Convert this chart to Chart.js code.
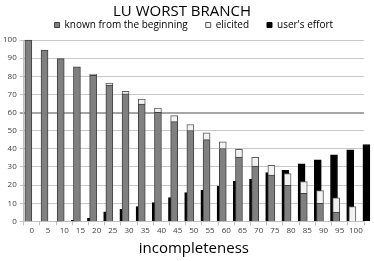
<!DOCTYPE html>
<html>
<head>
<meta charset="utf-8">
<script src="https://cdn.jsdelivr.net/npm/chart.js@4.4.1/dist/chart.umd.min.js"></script>
<style>
  html, body { margin: 0; padding: 0; background: #fff; }
  #wrap { width: 374px; height: 261px; }
</style>
</head>
<body>
<div id="wrap"><canvas id="chart"></canvas></div>
<script>
// incompleteness levels (x categories)
const categories = ['0', '5', '10', '15', '20', '25', '30', '35', '40', '45', '50',
                    '55', '60', '65', '70', '75', '80', '85', '90', '95', '100'];

// values
const known    = [100, 94.5, 89.7, 85.2, 80.5, 75.1, 70.3, 64.7, 60.1, 55, 50.1,
                  45.1, 40.2, 35.4, 30.5, 25.6, 19.9, 15.5, 10, 5.1, 0];
const elicited = [0, 0, 0, 0, 0.7, 1.1, 1.4, 2.8, 2.4, 3.3, 3.3,
                  3.7, 3.7, 4.3, 4.8, 5.3, 6.4, 6.4, 7, 7.9, 8.2];
const effort   = [0, 0.2, 0.6, 1.8, 5.3, 6.7, 8.2, 10.4, 13.2, 15.9, 17.2,
                  19.5, 22.1, 23.2, 26.9, 28.1, 31.8, 34, 36.7, 39.5, 42.4];

const yTicks = [0, 10, 20, 30, 40, 50, 60, 70, 80, 90, 100];

const FONT = "'Open Sans', 'Noto Sans', sans-serif";

// empty stack on the left so the grey bar sits on the category centre
const spacer = categories.map(() => null);

new Chart(document.getElementById('chart'), {
  type: 'bar',
  data: {
    labels: categories,
    datasets: [
      { label: 'pad', data: spacer, stack: 'pad' },
      {
        label: 'known from the beginning',
        data: known,
        stack: 'a',
        backgroundColor: '#808080',
        borderColor: '#404040',
        borderWidth: 1
      },
      {
        label: 'elicited',
        data: elicited,
        stack: 'a',
        backgroundColor: '#f2f2f2',
        borderColor: '#595959',
        borderWidth: 1
      },
      {
        label: "user's effort",
        data: effort,
        stack: 'b',
        backgroundColor: '#000000',
        borderColor: '#000000',
        borderWidth: 1
      }
    ]
  },
  options: {
    responsive: true,
    maintainAspectRatio: false,
    animation: false,
    datasets: { bar: { barThickness: 7, clip: false } },
    layout: { padding: { left: 0, right: 10, top: 0, bottom: 0 } },
    plugins: {
      title: {
        display: true,
        text: 'LU WORST BRANCH',
        color: '#000',
        font: { family: FONT, size: 15, weight: 'normal' },
        padding: { top: 3, bottom: -19 }
      },
      legend: {
        position: 'top',
        fullSize: false,
        labels: {
          filter: item => item.text !== 'pad',
          color: '#000',
          font: { family: FONT, size: 10 },
          boxWidth: 5,
          boxHeight: 5,
          padding: 18
        }
      },
      tooltip: { enabled: false }
    },
    scales: {
      x: {
        stacked: false,
        grid: { drawOnChartArea: false, offset: true, tickLength: 4, color: '#bfbfbf' },
        border: { color: '#bfbfbf' },
        ticks: { color: '#404040', font: { family: FONT, size: 8 }, maxRotation: 0, autoSkip: false, padding: 1 },
        title: {
          display: true,
          text: 'incompleteness',
          color: '#000',
          font: { family: FONT, size: 15 },
          padding: { top: 3, bottom: 3 }
        }
      },
      y: {
        stacked: true,
        min: 0,
        max: 100,
        afterBuildTicks: axis => { axis.ticks = yTicks.map(v => ({ value: v })); },
        grid: {
          color: ctx => ctx.tick && ctx.tick.value === 60 ? '#a6a6a6' : '#c8c8c8',
          lineWidth: ctx => ctx.tick && ctx.tick.value === 60 ? 2 : 1,
          tickLength: 4
        },
        border: { color: '#bfbfbf' },
        ticks: { color: '#404040', font: { family: FONT, size: 8 }, padding: 3 }
      }
    }
  }
});
</script>
</body>
</html>
